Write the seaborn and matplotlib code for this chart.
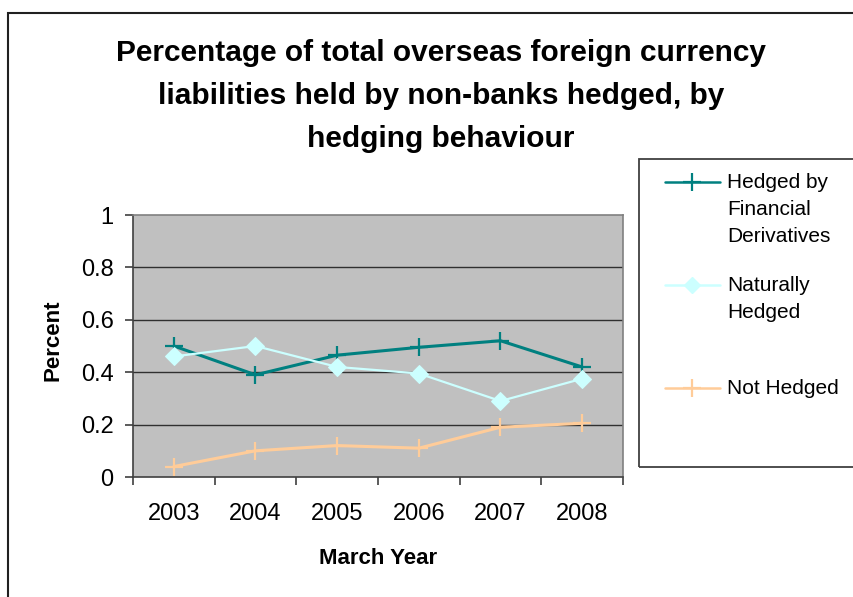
import matplotlib
matplotlib.use("Agg")
import matplotlib.pyplot as plt
import seaborn as sns
import pandas as pd
from matplotlib.lines import Line2D
from matplotlib.patches import Rectangle

years = ["2003", "2004", "2005", "2006", "2007", "2008"]
hedged_fd = [0.50, 0.39, 0.465, 0.495, 0.52, 0.42]
natural = [0.46, 0.50, 0.42, 0.395, 0.29, 0.375]
not_hedged = [0.04, 0.10, 0.12, 0.11, 0.19, 0.205]
series_names = ["Hedged by\nFinancial\nDerivatives", "Naturally\nHedged", "Not Hedged"]
series_colors = ["#008080", "#CCFFFF", "#FFCC99"]

sns.set_theme(style="white")
plt.rcParams['font.family'] = ['Liberation Sans', 'DejaVu Sans']
plt.rcParams['text.color'] = 'black'
plt.rcParams['xtick.labelcolor'] = 'black'
plt.rcParams['ytick.labelcolor'] = 'black'

rows = []
for name, vals in zip(series_names, [hedged_fd, natural, not_hedged]):
    for i, (y, v) in enumerate(zip(years, vals)):
        rows.append({"idx": i, "year": y, "value": v, "series": name})
df = pd.DataFrame(rows)

W, H = 854, 597
fig = plt.figure(figsize=(W / 100, H / 100), dpi=100)

def fx(px):
    return px / W

def fy(py):
    return 1 - py / H

# outer chart border (extends past right/bottom edges)
fig.patches.append(Rectangle((fx(8), fy(H + 10)), 1.2, fy(13) - fy(H + 10), transform=fig.transFigure,
                             fill=False, edgecolor="#202020", linewidth=1.5))

ax = fig.add_axes([fx(133), fy(477), (623 - 133) / W, (477 - 215) / H])
ax.set_facecolor("#C0C0C0")

for name, col in zip(series_names, series_colors):
    sub = df[df.series == name]
    if name == series_names[1]:
        sns.lineplot(data=sub, x="idx", y="value", ax=ax, color=col, marker="D",
                     markersize=9, markeredgecolor=col, markerfacecolor=col,
                     linewidth=1.6, legend=False)
    else:
        sns.lineplot(data=sub, x="idx", y="value", ax=ax, color=col, marker="+",
                     markersize=13, markeredgewidth=1.6, markeredgecolor=col,
                     linewidth=2.2, legend=False)

ax.set_xlim(-0.5, 5.5)
ax.set_ylim(0, 1)
ax.set_yticks([0, 0.2, 0.4, 0.6, 0.8, 1.0])
ax.set_yticklabels(["0", "0.2", "0.4", "0.6", "0.8", "1"], fontsize=17)
ax.set_xticks(range(6))
ax.set_xticklabels(years, fontsize=17)
ax.set_xticks([i - 0.5 for i in range(7)], minor=True)
ax.tick_params(axis="x", which="major", length=0, pad=19)
ax.tick_params(axis="x", which="minor", length=6, width=1.2, color="#404040", direction="out", bottom=True)
ax.tick_params(axis="y", length=6, width=1.2, color="#404040", direction="out", left=True, pad=8)
for y in [0.2, 0.4, 0.6, 0.8]:
    ax.axhline(y, color="#303030", linewidth=1.0, zorder=0.5)
for s in ["top", "right"]:
    ax.spines[s].set_color("#808080")
    ax.spines[s].set_linewidth(1.2)
for s in ["left", "bottom"]:
    ax.spines[s].set_color("#404040")
    ax.spines[s].set_linewidth(1.2)
ax.set_xlabel("")
ax.set_ylabel("")
fig.text(fx(378), fy(558), "March Year", ha="center", va="center", fontsize=16, fontweight="bold")
fig.text(fx(53), fy(340), "Percent", ha="center", va="center", fontsize=16, fontweight="bold",
         rotation=90)

fig.text(fx(441), fy(96), "Percentage of total overseas foreign currency\nliabilities held by non-banks hedged, by\nhedging behaviour",
         ha="center", va="center", fontsize=21.5, fontweight="bold", linespacing=1.66)

# legend box
fig.patches.append(Rectangle((fx(639), fy(467)), 0.5, fy(159) - fy(467), transform=fig.transFigure,
                             fill=False, edgecolor="#404040", linewidth=1.3))
handle_y = [182, 285, 388]
text_y = [186, 289, 392]
for name, col, hy, ty in zip(series_names, series_colors, handle_y, text_y):
    fig.lines.append(Line2D([fx(665), fx(720)], [fy(hy), fy(hy)], transform=fig.transFigure,
                            color=col, linewidth=1.8))
    if col == "#CCFFFF":
        fig.lines.append(Line2D([fx(692.5)], [fy(hy)], transform=fig.transFigure, color=col,
                                marker="D", markersize=8, markeredgecolor=col, linestyle="none"))
    else:
        fig.lines.append(Line2D([fx(692.5)], [fy(hy)], transform=fig.transFigure, color=col,
                                marker="+", markersize=13, markeredgewidth=1.6, linestyle="none"))
    fig.text(fx(727), fy(ty - 13), name, ha="left", va="top", fontsize=15, linespacing=1.55)

fig.savefig("out.png", dpi=100)
